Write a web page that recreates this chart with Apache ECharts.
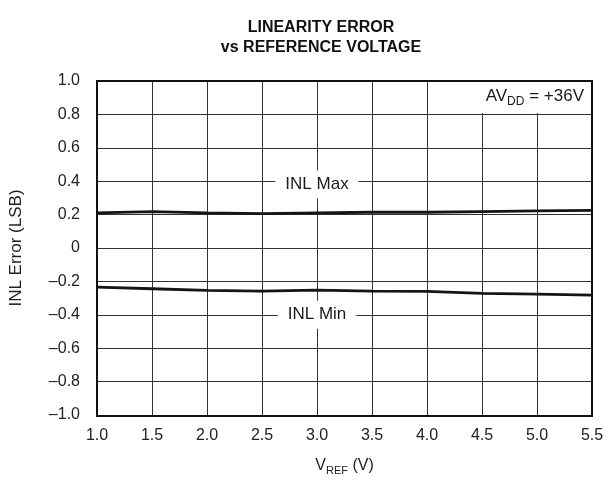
<!DOCTYPE html>
<html>
<head>
<meta charset="utf-8">
<script src="https://cdn.jsdelivr.net/npm/echarts@6/dist/echarts.min.js"></script>
<style>
  html, body { margin: 0; padding: 0; background: #fff; }
  #chart { width: 609px; height: 481px; }
</style>
</head>
<body>
<div id="chart"></div>
<script>
// Reference voltage sweep (V)
const vref = [1.0, 1.5, 2.0, 2.5, 3.0, 3.5, 4.0, 4.5, 5.0, 5.5];
// Maximum and minimum integral nonlinearity (LSB)
const inlMax = [0.210, 0.218, 0.210, 0.206, 0.210, 0.214, 0.214, 0.218, 0.222, 0.225];
const inlMin = [-0.234, -0.244, -0.254, -0.258, -0.252, -0.258, -0.260, -0.272, -0.276, -0.282];
// Curve labels: [x, y, text]
const curveLabels = [[3.0, 0.38, 'INL Max'], [3.0, -0.40, 'INL Min']];
const supplyNote = { pre: 'AV', sub: 'DD', post: ' = +36V' };

const FONT = '"Liberation Sans", Arial, Helvetica, sans-serif';
const chart = echarts.init(document.getElementById('chart'), null, { renderer: 'canvas' });

function pairs(xs, ys) { return xs.map((x, i) => [x, ys[i]]); }

function labelPoint(lbl) {
  return {
    symbol: 'rect', symbolSize: 0, silent: true,
    label: {
      show: true, position: 'inside', color: '#1a1a1a',
      fontFamily: FONT, fontSize: 17,
      backgroundColor: '#fff', padding: [6, 10, 5, 10],
      formatter: lbl[2]
    },
    data: [{ coord: [lbl[0], lbl[1]] }]
  };
}

const G = { left: 97, right: 17, top: 81, bottom: 65 };

chart.setOption({
  backgroundColor: '#fff',
  animation: false,
  title: {
    text: 'LINEARITY ERROR\nvs REFERENCE VOLTAGE',
    left: 316, top: 13, textAlign: 'center',
    textStyle: { fontFamily: FONT, fontSize: 16, fontWeight: 'bold', color: '#111', lineHeight: 20 }
  },
  grid: { left: G.left, right: G.right, top: G.top, bottom: G.bottom, show: false },
  xAxis: {
    type: 'value', min: 1.0, max: 5.5, interval: 0.5,
    name: '{v|V}{s|REF}{v| (V)}',
    nameLocation: 'middle', nameGap: 41,
    nameTextStyle: {
      rich: {
        v: { fontFamily: FONT, fontSize: 16, color: '#222' },
        s: { fontFamily: FONT, fontSize: 11, color: '#222', verticalAlign: 'bottom', padding: [9, 0, 0, 0] }
      }
    },
    axisLine: { show: false },
    axisTick: { show: false },
    axisLabel: { margin: 13, fontFamily: FONT, fontSize: 16, color: '#222', formatter: v => v.toFixed(1) },
    splitLine: { show: true, lineStyle: { color: '#333', width: 1 } }
  },
  yAxis: {
    type: 'value', min: -1.0, max: 1.0, interval: 0.2,
    name: 'INL Error (LSB)', nameLocation: 'middle', nameGap: 72,
    nameTextStyle: { fontFamily: FONT, fontSize: 17, color: '#222' },
    axisLine: { show: false },
    axisTick: { show: false },
    axisLabel: {
      margin: 17, fontFamily: FONT, fontSize: 16, color: '#222',
      formatter: v => {
        const r = Math.round(v * 10) / 10;
        if (r === 0) return '0';
        return (r < 0 ? '\u2013' : '') + Math.abs(r).toFixed(1);
      }
    },
    splitLine: { show: true, lineStyle: { color: '#333', width: 1 } }
  },
  graphic: [
    {
      type: 'rect', z: 10,
      shape: { x: 464, y: 82, width: 127, height: 31 },
      style: { fill: '#fff' }
    },
    {
      type: 'text', right: 25, top: 88, z: 11,
      style: {
        text: '{a|' + supplyNote.pre + '}{b|' + supplyNote.sub + '}{a|' + supplyNote.post + '}',
        rich: {
          a: { fontFamily: FONT, fontSize: 17, fill: '#1a1a1a' },
          b: { fontFamily: FONT, fontSize: 12, fill: '#1a1a1a', padding: [10, 0, 0, 0] }
        }
      }
    },
    {
      type: 'rect', z: 12, silent: true,
      shape: { x: G.left, y: G.top, width: 609 - G.left - G.right, height: 481 - G.top - G.bottom },
      style: { fill: 'none', stroke: '#111', lineWidth: 2 }
    }
  ],
  series: [
    {
      name: 'INL Max', type: 'line', data: pairs(vref, inlMax),
      showSymbol: false, smooth: false,
      lineStyle: { color: '#151515', width: 2.8 },
      markPoint: labelPoint(curveLabels[0]), z: 5
    },
    {
      name: 'INL Min', type: 'line', data: pairs(vref, inlMin),
      showSymbol: false, smooth: false,
      lineStyle: { color: '#151515', width: 2.8 },
      markPoint: labelPoint(curveLabels[1]), z: 5
    }
  ]
});
</script>
</body>
</html>
